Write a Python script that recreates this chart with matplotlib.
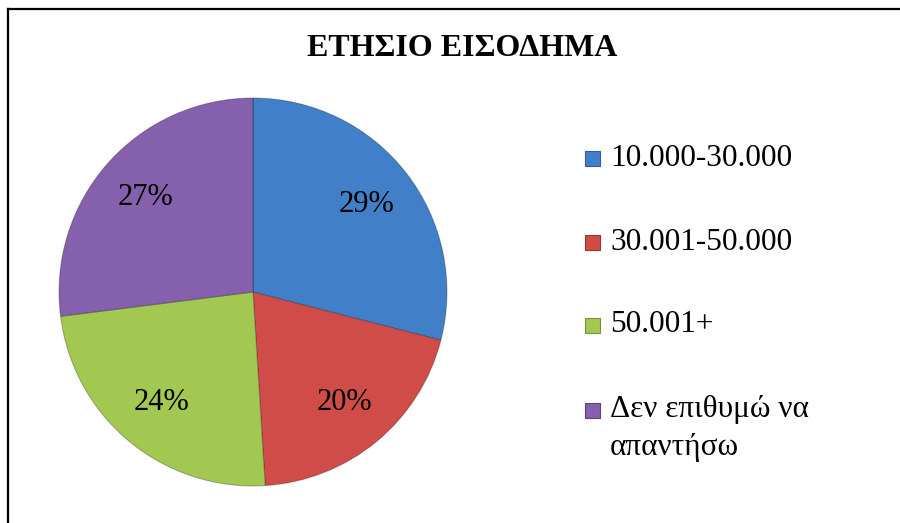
import matplotlib
matplotlib.use("Agg")
import matplotlib.pyplot as plt
from matplotlib.patches import Rectangle
from matplotlib.lines import Line2D

title = "ΕΤΗΣΙΟ ΕΙΣΟΔΗΜΑ"
categories = ["10.000-30.000", "30.001-50.000", "50.001+", "Δεν επιθυμώ να\nαπαντήσω"]
values = [29, 20, 24, 27]
colors = ["#4180C8", "#D04C49", "#A3C851", "#8560AC"]
edge_colors = ["#2F5F9A", "#9A3431", "#76933A", "#5E4280"]

W, H = 900, 523
plt.rcParams['font.family'] = ['Liberation Serif', 'DejaVu Serif']
fig = plt.figure(figsize=(W / 100, H / 100), dpi=100)

# border (top & left visible)
fig.add_artist(Line2D([8 / W, 8 / W], [0, 1 - 9 / H], transform=fig.transFigure,
                      color='black', lw=1.6))
fig.add_artist(Line2D([8 / W, 1], [1 - 9 / H, 1 - 9 / H], transform=fig.transFigure,
                      color='black', lw=1.6))

cx, cy, r = 253, 292, 194
ax = fig.add_axes([(cx - r) / W, (H - cy - r) / H, 2 * r / W, 2 * r / H])
wedges, texts = ax.pie(values, colors=colors, startangle=90, counterclock=False,
                       radius=1, labels=[f"{v}%" for v in values], labeldistance=0.74,
                       wedgeprops=dict(linewidth=0.8, edgecolor='#00000040'),
                       textprops=dict(fontsize=22, color='black'))
for t in texts:
    t.set_ha('center')
    t.set_va('center')
ax.set_xlim(-1, 1)
ax.set_ylim(-1, 1)
ax.set_aspect('equal')
ax.axis('off')

fig.text(462 / W, 1 - 48 / H, title, ha='center', va='center', fontsize=23,
         fontweight='bold')

# legend
rows_y = [158, 242, 325, 410]
for lab, col, ec, y in zip(categories, colors, edge_colors, rows_y):
    fig.add_artist(Rectangle((585 / W, 1 - (y + 8) / H), 15 / W, 15 / H,
                             transform=fig.transFigure, facecolor=col,
                             edgecolor=ec, lw=0.8))
    lines = lab.split("\n")
    for k, line in enumerate(lines):
        fig.text(610 / W, 1 - (y + k * 38) / H, line, ha='left', va='center',
                 fontsize=22.5)

fig.savefig("out.png", dpi=100, facecolor='white')
